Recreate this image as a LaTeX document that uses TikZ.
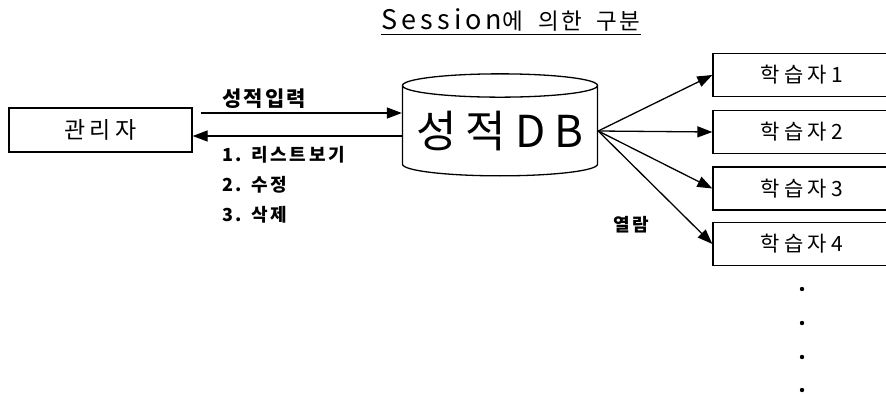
\documentclass[tikz,border=0pt]{standalone}
\usepackage{fontspec}
\setmainfont{Noto Sans CJK KR}
\newfontfamily\widekor[LetterSpace=20]{Noto Sans CJK KR}
\newfontfamily\midkor[LetterSpace=15]{Noto Sans CJK KR}
\newfontfamily\narrowkor[LetterSpace=10]{Noto Sans CJK KR}
\usetikzlibrary{arrows.meta,shapes.geometric}

\tikzset{
  adminbox/.style={draw, line width=1.3pt, minimum width=183pt, minimum height=44pt, inner sep=0pt, font=\widekor\fontsize{23}{23}\selectfont},
  learnerbox/.style={draw, line width=1.3pt, minimum width=178pt, minimum height=43pt, inner sep=0pt, font=\widekor\fontsize{21}{21}\selectfont},
  link/.style={line width=1.3pt, -{Triangle[length=15pt, width=11pt]}},
  smalllabel/.style={inner sep=0pt, anchor=west, font=\midkor\bfseries\fontsize{18}{18}\selectfont}
}

\begin{document}
\begin{tikzpicture}[x=1pt, y=-1pt]
			%%%%% START %%%%%
			\useasboundingbox (0, 0) rectangle (886, 394);
			\clip (0, 0) rectangle (886, 394);
			
			\node[inner sep=0pt] (title) at (511, 20) {\midkor\fontsize{27}{27}\selectfont Session{\narrowkor\fontsize{22.5}{22.5}\selectfont 에\hspace{15pt}의한\hspace{15pt}구분}};
			\draw[line width=1pt] ([yshift=-5pt]title.base west) -- ([yshift=-5pt]title.base east);
			
			\node[adminbox] (admin) at (100.5, 130) {관리자};
			
			\node[cylinder, shape border rotate=90, draw, line width=1.3pt, aspect=0.14,
			      minimum width=195pt, minimum height=102pt, inner sep=0pt,
			      font=\widekor\fontsize{44}{44}\selectfont] (db) at (500, 131) {성적DB};
			
			\draw[link] ([xshift=8pt, yshift=17pt]admin.east) -- ([yshift=17pt]admin.east -| db.west);
			\draw[link] ([yshift=-6pt]admin.east -| db.west) -- ([yshift=-6pt]admin.east);
			
			\node[smalllabel, font=\narrowkor\bfseries\fontsize{21}{21}\selectfont] (input) at (222, 99) {성적입력};
			\node[smalllabel] (list) at (222, 155) {1. 리스트보기};
			\node[smalllabel] (edit) at (222, 185) {2. 수정};
			\node[smalllabel] (delete) at (222, 215) {3. 삭제};
			
			\foreach \i/\y in {1/75, 2/132, 3/188.5, 4/244} {
				\node[learnerbox] (learner\i) at (802, \y) {학습자\i};
				\draw[link] (db.east) -- (learner\i.west);
			}
			
			\node[smalllabel] (view) at (613, 225) {열람};
			
			\foreach \y in {289, 323, 357, 390}
				\fill (802, \y) circle (2.2pt);
			%%%%% END %%%%%
\end{tikzpicture}
\end{document}
